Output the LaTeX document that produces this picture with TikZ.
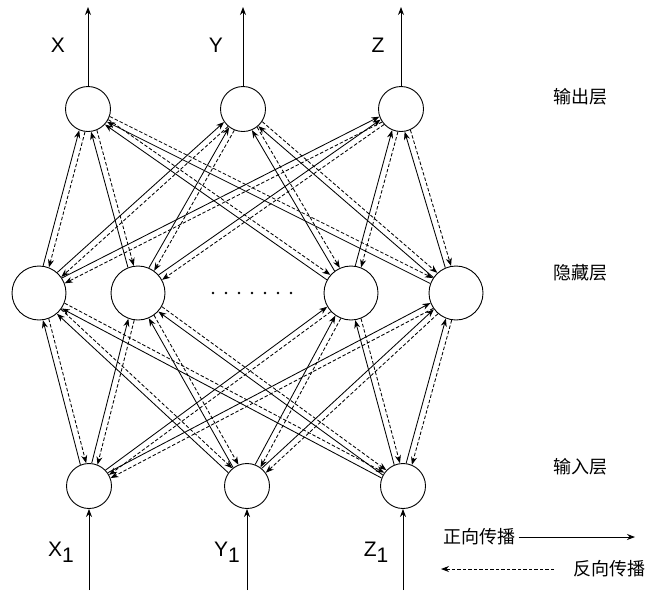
\documentclass[tikz,border=0pt]{standalone}
\usepackage{fontspec}
\setmainfont{Liberation Sans}
\newfontfamily\cjk{Noto Sans CJK SC}
\usetikzlibrary{arrows.meta,calc}
\begin{document}
\begin{tikzpicture}[x=1pt,y=-1pt,
  neuron/.style={circle,draw,line width=0.9pt,inner sep=0pt,minimum size=45pt},
  hid/.style={neuron,minimum size=54pt},
  fwd/.style={line width=0.85pt,-{Stealth[length=8pt,width=6pt]}},
  bwd/.style={fwd,dash pattern=on 3.5pt off 2pt},
  lab/.style={font=\fontsize{21}{21}\selectfont},
  clab/.style={font=\cjk\fontsize{18}{18}\selectfont}]
\useasboundingbox (0,0) rectangle (647,590);
% nodes
\node[neuron] (o1) at (88,109) {};
\node[neuron] (o2) at (243,109) {};
\node[neuron] (o3) at (401,109) {};
\node[hid] (h1) at (39,293) {};
\node[hid] (h2) at (138,293) {};
\node[hid] (h3) at (351,293) {};
\node[hid] (h4) at (456,293) {};
\node[neuron] (i1) at (89,486) {};
\node[neuron] (i2) at (247,486) {};
\node[neuron] (i3) at (403,486) {};
% connections: #1 from, #2 to, #3 r_from, #4 r_to, #5 ang_from, #6 ang_to
\newcommand\nnconn[6]{%
  \draw[fwd] ($(#1)!#3!#5:(#2)$) -- ($(#2)!#4!-#6:(#1)$);
  \draw[bwd] ($(#2)!#4!#6:(#1)$) -- ($(#1)!#3!-#5:(#2)$);}
\foreach \a in {i1,i2,i3}{\foreach \b in {h1,h2,h3,h4}{\nnconn{\a}{\b}{23pt}{27.5pt}{7.5}{6.3}}}
\foreach \a in {h1,h2,h3,h4}{\foreach \b in {o1,o2,o3}{\nnconn{\a}{\b}{27.5pt}{23pt}{6.3}{7.5}}}
% outputs
\coordinate (oX) at (88,7);
\coordinate (oY) at (243,7);
\coordinate (oZ) at (401,7);
\draw[fwd] (o1.north) -- (oX);
\draw[fwd] (o2.north) -- (oY);
\draw[fwd] (o3.north) -- (oZ);
\node[lab] (tX) at (58,45) {X};
\node[lab] (tY) at (216,45) {Y};
\node[lab] (tZ) at (378,45) {Z};
% inputs
\coordinate (iX) at (89,590);
\coordinate (iY) at (247,590);
\coordinate (iZ) at (403,590);
\draw[fwd] (iX) -- (i1.south);
\draw[fwd] (iY) -- (i2.south);
\draw[fwd] (iZ) -- (i3.south);
\node[lab] (tX1) at (61,552) {X\raisebox{-6pt}{1}};
\node[lab] (tY1) at (227,552) {Y\raisebox{-6pt}{1}};
\node[lab] (tZ1) at (376,552) {Z\raisebox{-6pt}{1}};
% dots
\foreach \x in {213,226,239,252,265,278,291}{\fill (\x,293) circle (1.3pt);}
% layer labels
\node[clab] (lo) at (580,97) {输出层};
\node[clab] (lh) at (580,273) {隐藏层};
\node[clab] (li) at (580,467) {输入层};
% legend
\node[clab] (fw) at (479,537) {正向传播};
\coordinate (fwend) at (635,537);
\draw[fwd] (fw.east) -- (fwend);
\node[clab] (bw) at (609,569) {反向传播};
\coordinate (bwstart) at (554,569);
\coordinate (bwend) at (441,569);
\draw[bwd] (bwstart) -- (bwend);
\end{tikzpicture}
\end{document}
